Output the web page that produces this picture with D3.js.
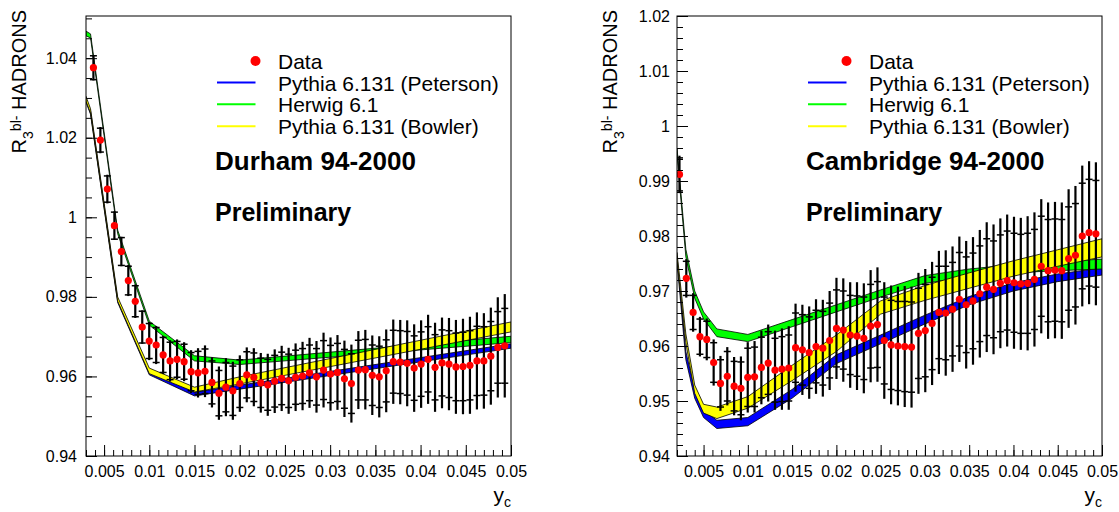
<!DOCTYPE html>
<meta charset="utf-8">
<style>
body {
	margin: 0;
	background: #fff;
}
svg {
	display: block;
	font-family: "Liberation Sans", Arial, Helvetica, sans-serif;
}
.axis path {
	display: none;
}
.axis line {
	stroke: #000;
}
.axis text {
	font-size: 16px;
	fill: #000;
	font-family: "Liberation Sans", Arial, Helvetica, sans-serif;
}
</style>
<body>
<svg width="1119" height="512"></svg>
<script src="https://d3js.org/d3.v7.min.js"></script>
<script>

// y_c bin positions (shared by both measurements)
var yc = [0.00228, 0.00305, 0.00382, 0.00459, 0.00536, 0.00614, 0.00691, 0.00768, 0.00845, 0.00922,
	0.00999, 0.01076, 0.01153, 0.01230, 0.01307, 0.01385, 0.01462, 0.01539, 0.01616, 0.01693,
	0.01770, 0.01847, 0.01924, 0.02001, 0.02078, 0.02156, 0.02233, 0.02310, 0.02387, 0.02464,
	0.02541, 0.02618, 0.02695, 0.02772, 0.02849, 0.02927, 0.03004, 0.03081, 0.03158, 0.03235,
	0.03312, 0.03389, 0.03466, 0.03543, 0.03620, 0.03698, 0.03775, 0.03852, 0.03929, 0.04006,
	0.04083, 0.04160, 0.04237, 0.04314, 0.04391, 0.04469, 0.04546, 0.04623, 0.04700, 0.04777,
	0.04854, 0.04931];

// Durham: data starts at the third bin
var durhamY = [1.0376, 1.0194, 1.0071, 0.9979, 0.9914, 0.9841, 0.9789, 0.9724, 0.9689, 0.9679,
	0.9654, 0.9639, 0.9643, 0.9637, 0.9612, 0.9609, 0.9613, 0.9585, 0.9558, 0.9573,
	0.9564, 0.9582, 0.9604, 0.9598, 0.9584, 0.9579, 0.9588, 0.9595, 0.9589, 0.9598,
	0.9601, 0.9609, 0.9599, 0.9616, 0.9606, 0.9610, 0.9594, 0.9582, 0.9616, 0.9617,
	0.9603, 0.9599, 0.9614, 0.9637, 0.9636, 0.9633, 0.9621, 0.9631, 0.9643, 0.9623,
	0.9634, 0.9631, 0.9624, 0.9625, 0.9628, 0.9639, 0.9639, 0.9651, 0.9673, 0.9677];
var durhamTot = [0.0032, 0.0033, 0.0036, 0.0036, 0.0037, 0.0039, 0.0042, 0.0042, 0.0048, 0.0048,
	0.0048, 0.0052, 0.0050, 0.0049, 0.0054, 0.0062, 0.0065, 0.0063, 0.0067, 0.0073,
	0.0073, 0.0071, 0.0069, 0.0073, 0.0075, 0.0078, 0.0080, 0.0082, 0.0083, 0.0085,
	0.0086, 0.0088, 0.0090, 0.0094, 0.0092, 0.0094, 0.0096, 0.0098, 0.0098, 0.0100,
	0.0100, 0.0102, 0.0104, 0.0106, 0.0106, 0.0108, 0.0110, 0.0110, 0.0112, 0.0112,
	0.0114, 0.0116, 0.0118, 0.0120, 0.0122, 0.0122, 0.0120, 0.0122, 0.0126, 0.0130];
var durhamStat = [0.0030, 0.0030, 0.0033, 0.0034, 0.0035, 0.0036, 0.0039, 0.0040, 0.0044, 0.0044,
	0.0044, 0.0047, 0.0045, 0.0044, 0.0048, 0.0054, 0.0056, 0.0054, 0.0057, 0.0062,
	0.0062, 0.0060, 0.0058, 0.0061, 0.0062, 0.0064, 0.0065, 0.0066, 0.0067, 0.0068,
	0.0069, 0.0070, 0.0071, 0.0074, 0.0072, 0.0073, 0.0074, 0.0075, 0.0075, 0.0076,
	0.0076, 0.0077, 0.0078, 0.0079, 0.0079, 0.0080, 0.0081, 0.0081, 0.0082, 0.0082,
	0.0083, 0.0084, 0.0085, 0.0086, 0.0087, 0.0087, 0.0086, 0.0087, 0.0090, 0.0094];

var cambridgeY = [0.9912, 0.9723, 0.9661, 0.9617, 0.9612, 0.9570, 0.9532, 0.9545, 0.9527, 0.9523,
	0.9543, 0.9544, 0.9561, 0.9569, 0.9556, 0.9558, 0.9560, 0.9597, 0.9593, 0.9588,
	0.9599, 0.9596, 0.9610, 0.9632, 0.9629, 0.9620, 0.9618, 0.9614, 0.9636, 0.9639,
	0.9610, 0.9602, 0.9600, 0.9599, 0.9598, 0.9623, 0.9628, 0.9641, 0.9661, 0.9660,
	0.9667, 0.9685, 0.9675, 0.9682, 0.9695, 0.9707, 0.9703, 0.9714, 0.9719, 0.9715,
	0.9713, 0.9714, 0.9721, 0.9745, 0.9737, 0.9738, 0.9737, 0.9759, 0.9765, 0.9800,
	0.9806, 0.9804];
var cambridgeTot = [0.0034, 0.0035, 0.0035, 0.0036, 0.0038, 0.0042, 0.0050, 0.0053, 0.0053, 0.0058,
	0.0064, 0.0065, 0.0067, 0.0070, 0.0072, 0.0074, 0.0076, 0.0080, 0.0082, 0.0084,
	0.0086, 0.0088, 0.0090, 0.0092, 0.0094, 0.0096, 0.0098, 0.0100, 0.0102, 0.0104,
	0.0106, 0.0108, 0.0108, 0.0110, 0.0110, 0.0110, 0.0112, 0.0112, 0.0112, 0.0114,
	0.0114, 0.0114, 0.0116, 0.0116, 0.0116, 0.0118, 0.0118, 0.0118, 0.0120, 0.0120,
	0.0120, 0.0122, 0.0122, 0.0122, 0.0124, 0.0124, 0.0124, 0.0126, 0.0126, 0.0128,
	0.0130, 0.0130];
var cambridgeStat = [0.0030, 0.0031, 0.0031, 0.0032, 0.0033, 0.0036, 0.0043, 0.0045, 0.0045, 0.0048,
	0.0053, 0.0054, 0.0055, 0.0057, 0.0058, 0.0059, 0.0060, 0.0063, 0.0064, 0.0065,
	0.0066, 0.0067, 0.0068, 0.0070, 0.0071, 0.0072, 0.0073, 0.0075, 0.0076, 0.0078,
	0.0079, 0.0081, 0.0081, 0.0082, 0.0082, 0.0082, 0.0084, 0.0084, 0.0084, 0.0085,
	0.0085, 0.0085, 0.0087, 0.0087, 0.0087, 0.0088, 0.0088, 0.0088, 0.0090, 0.0090,
	0.0090, 0.0091, 0.0091, 0.0091, 0.0093, 0.0093, 0.0093, 0.0094, 0.0094, 0.0096,
	0.0097, 0.0097];

// Monte Carlo bands (lower / upper edge at each y_c node)
var durhamNodes = [0.003, 0.0035, 0.0065, 0.01, 0.015, 0.02, 0.05];
var durhamPetersonLo = [1.0289, 1.0259, 0.9786, 0.9604, 0.9551, 0.9568, 0.9671];
var durhamPetersonHi = [1.0298, 1.0268, 0.9795, 0.9614, 0.9560, 0.9578, 0.9682];
var durhamHerwigLo = [1.0456, 1.0451, 0.9959, 0.9729, 0.9639, 0.9630, 0.9685];
var durhamHerwigHi = [1.0468, 1.0461, 0.9968, 0.9739, 0.9652, 0.9641, 0.9701];
var durhamBowlerLo = [1.0292, 1.0262, 0.9789, 0.9607, 0.9561, 0.9581, 0.9712];
var durhamBowlerHi = [1.0304, 1.0273, 0.9800, 0.9621, 0.9573, 0.9599, 0.9737];

var cambridgeNodes = [0.002, 0.003, 0.004, 0.005, 0.0065, 0.01, 0.015, 0.02, 0.025, 0.03, 0.035, 0.04, 0.045, 0.05];
var cambridgePetersonLo = [0.9752, 0.9575, 0.9505, 0.9470, 0.9450, 0.9455, 0.9505, 0.9568, 0.9604, 0.9640, 0.9675, 0.9700, 0.9717, 0.9729];
var cambridgePetersonHi = [0.9764, 0.9590, 0.9520, 0.9483, 0.9465, 0.9470, 0.9521, 0.9584, 0.9620, 0.9656, 0.9690, 0.9715, 0.9731, 0.9742];
var cambridgeHerwigLo = [0.9948, 0.9762, 0.9687, 0.9649, 0.9617, 0.9608, 0.9635, 0.9662, 0.9689, 0.9714, 0.9726, 0.9733, 0.9737, 0.9740];
var cambridgeHerwigHi = [0.9960, 0.9776, 0.9700, 0.9662, 0.9631, 0.9621, 0.9648, 0.9675, 0.9702, 0.9728, 0.9740, 0.9748, 0.9753, 0.9758];
var cambridgeBowlerLo = [0.9756, 0.9606, 0.9514, 0.9478, 0.9468, 0.9487, 0.9537, 0.9590, 0.9658, 0.9683, 0.9705, 0.9727, 0.9745, 0.9762];
var cambridgeBowlerHi = [0.9770, 0.9622, 0.9529, 0.9494, 0.9489, 0.9508, 0.9565, 0.9620, 0.9682, 0.9710, 0.9733, 0.9755, 0.9775, 0.9795];

// axis ticks
var xMajor = [0.005, 0.01, 0.015, 0.02, 0.025, 0.03, 0.035, 0.04, 0.045, 0.05];
var durhamYMajor = [0.94, 0.96, 0.98, 1, 1.02, 1.04];
var cambridgeYMajor = [0.94, 0.95, 0.96, 0.97, 0.98, 0.99, 1, 1.01, 1.02];

var legendLabels = ["Data", "Pythia 6.131 (Peterson)", "Herwig 6.1", "Pythia 6.131 (Bowler)"];
var modelColors = {peterson: "#0000ff", herwig: "#00ff00", bowler: "#ffff00"};

var svg = d3.select("svg");

function fmt(d) {
	return String(+d.toFixed(4));
}

function range(a, b, step) {
	var out = [];
	for (var v = a; v <= b + step / 2; v += step) out.push(+v.toFixed(5));
	return out;
}

function drawPanel(p) {
	var x = d3.scaleLinear().domain(p.xDomain).range([p.left, p.right]);
	var y = d3.scaleLinear().domain(p.yDomain).range([p.bottom, p.top]);
	var g = svg.append("g");

	g.append("clipPath").attr("id", "clip" + p.id)
		.append("rect")
		.attr("x", p.left).attr("y", p.top)
		.attr("width", p.right - p.left).attr("height", p.bottom - p.top);
	var plot = g.append("g").attr("clip-path", "url(#clip" + p.id + ")");

	// model bands
	p.bands.forEach(function(b) {
		var area = d3.area()
			.x(function(d, i) { return x(p.nodes[i]); })
			.y0(function(d, i) { return y(b.lo[i]); })
			.y1(function(d, i) { return y(b.hi[i]); });
		plot.append("path")
			.attr("d", area(b.lo))
			.attr("fill", b.color)
			.attr("stroke", "#000")
			.attr("stroke-width", 0.8);
	});

	// data with error bars
	var pts = p.ys.map(function(v, i) {
		return {x: p.xs[i], y: v, tot: p.tot[i], stat: p.stat[i]};
	});
	var bars = plot.append("g").attr("stroke", "#000");
	pts.forEach(function(d) {
		var cx = x(d.x);
		bars.append("line")
			.attr("x1", cx).attr("x2", cx)
			.attr("y1", y(d.y - d.tot)).attr("y2", y(d.y + d.tot))
			.attr("stroke-width", 2.2);
		[d.y - d.stat, d.y + d.stat].forEach(function(v) {
			bars.append("line")
				.attr("x1", cx - 3.5).attr("x2", cx + 3.5)
				.attr("y1", y(v)).attr("y2", y(v))
				.attr("stroke-width", 1.5);
		});
	});
	plot.append("g").selectAll("circle")
		.data(pts)
		.join("circle")
		.attr("cx", function(d) { return x(d.x); })
		.attr("cy", function(d) { return y(d.y); })
		.attr("r", 3.6)
		.attr("fill", "#ff0000");

	// frame
	g.append("rect")
		.attr("x", p.left).attr("y", p.top)
		.attr("width", p.right - p.left).attr("height", p.bottom - p.top)
		.attr("fill", "none").attr("stroke", "#000").attr("stroke-width", 1);

	// axes: ticks point inward
	g.append("g").attr("class", "axis")
		.attr("transform", "translate(0," + p.bottom + ")")
		.call(d3.axisBottom(x).tickValues(p.xMinor).tickSizeInner(-6).tickSizeOuter(0).tickFormat(""));
	g.append("g").attr("class", "axis")
		.attr("transform", "translate(0," + p.bottom + ")")
		.call(d3.axisBottom(x).tickValues(xMajor).tickSizeInner(-11).tickSizeOuter(0).tickPadding(10).tickFormat(fmt));
	g.append("g").attr("class", "axis")
		.attr("transform", "translate(" + p.left + ",0)")
		.call(d3.axisLeft(y).tickValues(p.yMinor).tickSizeInner(-6).tickSizeOuter(0).tickFormat(""));
	g.append("g").attr("class", "axis")
		.attr("transform", "translate(" + p.left + ",0)")
		.call(d3.axisLeft(y).tickValues(p.yMajor).tickSizeInner(-11).tickSizeOuter(0).tickPadding(p.labelGap).tickFormat(fmt));

	// y title
	var yt = svg.append("text")
		.attr("transform", "translate(" + (p.left - 60) + ",10) rotate(-90)")
		.attr("text-anchor", "end")
		.attr("font-size", 20)
		.attr("fill", "#000");
	yt.append("tspan").text("R");
	yt.append("tspan").attr("font-size", 14).attr("dy", 7).text("3");
	yt.append("tspan").attr("font-size", 14).attr("dy", -12.3).text("bl-");
	yt.append("tspan").attr("dy", 5.3).text(" HADRONS");

	// x title
	var xt = svg.append("text")
		.attr("x", p.right).attr("y", 502)
		.attr("text-anchor", "end")
		.attr("font-size", 21)
		.attr("fill", "#000");
	xt.append("tspan").text("y");
	xt.append("tspan").attr("font-size", 14).attr("dy", 5).text("c");

	// legend
	var lx = p.left + 131;
	var rows = [61, 82.5, 104.3, 126.3];
	var leg = svg.append("g");
	leg.append("circle").attr("cx", lx + 38.5).attr("cy", rows[0]).attr("r", 5).attr("fill", "#ff0000");
	[modelColors.peterson, modelColors.herwig, modelColors.bowler].forEach(function(c, i) {
		leg.append("line")
			.attr("x1", lx).attr("x2", lx + 38.5)
			.attr("y1", rows[i + 1]).attr("y2", rows[i + 1])
			.attr("stroke", c).attr("stroke-width", 2);
	});
	legendLabels.forEach(function(t, i) {
		leg.append("text")
			.attr("x", lx + 61).attr("y", rows[i] + 8)
			.attr("font-size", 21)
			.attr("fill", "#000")
			.text(t);
	});

	// captions
	svg.append("text").attr("x", p.left + 129).attr("y", 170)
		.attr("font-size", 26).attr("font-weight", "bold").text(p.title);
	svg.append("text").attr("x", p.left + 129).attr("y", 221)
		.attr("font-size", 25).attr("font-weight", "bold").text("Preliminary");
}

drawPanel({
	id: "durham",
	left: 86, right: 511, top: 16, bottom: 456,
	xDomain: [0.003, 0.05],
	yDomain: [0.94, 1.0506],
	xMinor: range(0.003, 0.05, 0.001),
	yMinor: range(0.94, 1.05, 0.005),
	yMajor: durhamYMajor,
	labelGap: 9,
	xs: yc.slice(2), ys: durhamY, tot: durhamTot, stat: durhamStat,
	nodes: durhamNodes,
	bands: [
		{color: modelColors.peterson, lo: durhamPetersonLo, hi: durhamPetersonHi},
		{color: modelColors.herwig, lo: durhamHerwigLo, hi: durhamHerwigHi},
		{color: modelColors.bowler, lo: durhamBowlerLo, hi: durhamBowlerHi}
	],
	title: "Durham 94-2000"
});

drawPanel({
	id: "cambridge",
	left: 677, right: 1102, top: 16, bottom: 456,
	xDomain: [0.002, 0.05],
	yDomain: [0.94, 1.02],
	xMinor: range(0.002, 0.05, 0.001),
	yMinor: range(0.94, 1.02, 0.002),
	yMajor: cambridgeYMajor,
	labelGap: 7,
	xs: yc, ys: cambridgeY, tot: cambridgeTot, stat: cambridgeStat,
	nodes: cambridgeNodes,
	bands: [
		{color: modelColors.peterson, lo: cambridgePetersonLo, hi: cambridgePetersonHi},
		{color: modelColors.herwig, lo: cambridgeHerwigLo, hi: cambridgeHerwigHi},
		{color: modelColors.bowler, lo: cambridgeBowlerLo, hi: cambridgeBowlerHi}
	],
	title: "Cambridge 94-2000"
});
</script>
